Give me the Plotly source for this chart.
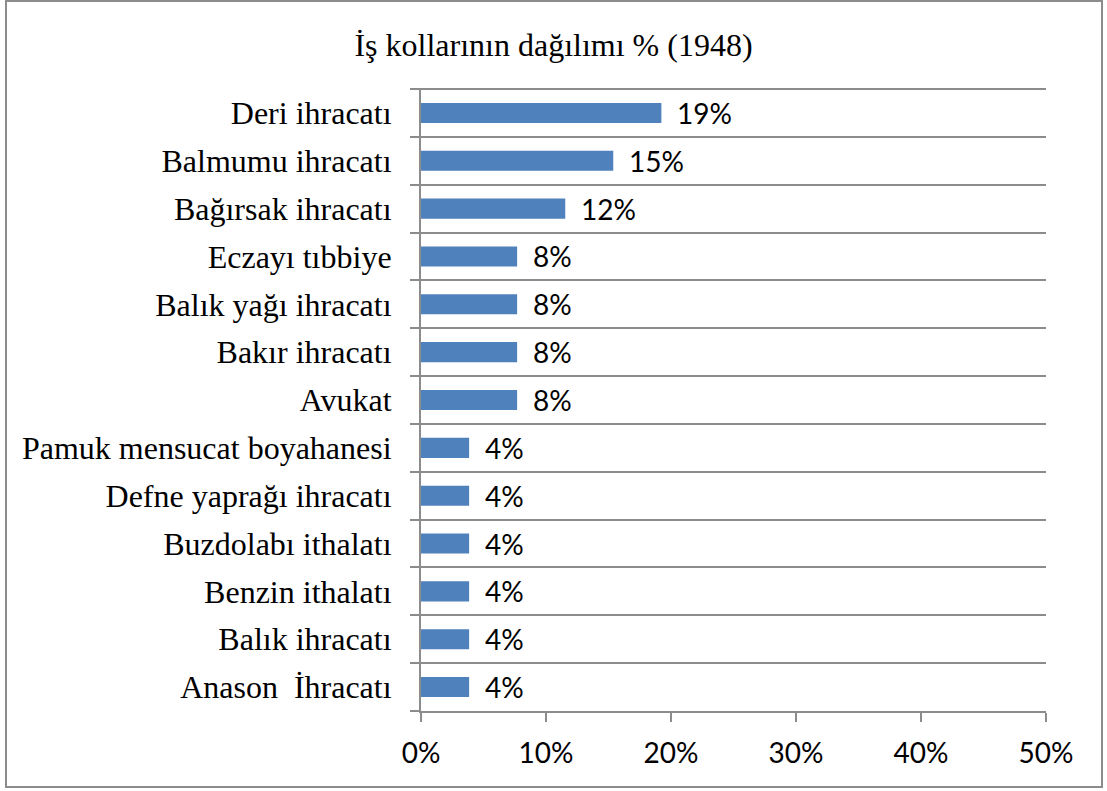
import plotly.graph_objects as go

# Sectors of activity, listed top to bottom
categories = [
    "Deri ihracatı",
    "Balmumu ihracatı",
    "Bağırsak ihracatı",
    "Eczayı tıbbiye",
    "Balık yağı ihracatı",
    "Bakır ihracatı",
    "Avukat",
    "Pamuk mensucat boyahanesi",
    "Defne yaprağı ihracatı",
    "Buzdolabı ithalatı",
    "Benzin ithalatı",
    "Balık ihracatı",
    "Anason  İhracatı",
]
# Share of each sector (%)
shares = [19.23, 15.38, 11.54, 7.69, 7.69, 7.69, 7.69,
          3.85, 3.85, 3.85, 3.85, 3.85, 3.85]
x_ticks = [0, 10, 20, 30, 40, 50]
x_tick_labels = ["0%", "10%", "20%", "30%", "40%", "50%"]

W, H = 1107, 791
L, R, T, B = 421, 61, 89, 80
pw, ph = W - L - R, H - T - B

serif = "Liberation Serif, Times New Roman, serif"
sans = "Lato, Carlito, Calibri, sans-serif"
axis_grey = "#8c8c8c"

fig = go.Figure(
    go.Bar(
        x=shares,
        y=categories,
        orientation="h",
        marker=dict(color="#4f81bd", line=dict(width=0)),
        width=0.42,
        hoverinfo="skip",
    )
)

# value labels to the right of each bar
for c, v in zip(categories, shares):
    fig.add_annotation(
        x=v, y=c, text=f"{v:.0f}%", showarrow=False,
        xanchor="left", yanchor="middle", xshift=14,
        font=dict(family=sans, size=28, color="#000000"),
    )

# gridline along the top edge of the plot area, with its outer tick
fig.add_shape(
    type="line", xref="paper", yref="paper",
    x0=-9 / pw, x1=1, y0=1, y1=1,
    line=dict(color=axis_grey, width=2),
)

# outer frame of the chart
fig.add_shape(
    type="rect", xref="paper", yref="paper",
    x0=(6 - L) / pw, x1=(1102 - L) / pw,
    y0=(H - B - 787) / ph, y1=(H - B - 1) / ph,
    line=dict(color=axis_grey, width=2), layer="below",
)

fig.update_layout(
    width=W, height=H,
    margin=dict(l=L, r=R, t=T, b=B, pad=0),
    paper_bgcolor="white", plot_bgcolor="white",
    showlegend=False,
    title=dict(
        text="İş kollarının dağılımı % (1948)",
        x=0.5, xanchor="center", y=1 - 45 / H, yanchor="middle",
        font=dict(family=serif, size=32, color="#000000"),
    ),
    xaxis=dict(
        range=[0, 50], tickvals=x_ticks, ticktext=x_tick_labels,
        showgrid=False, zeroline=False,
        showline=True, linecolor=axis_grey, linewidth=2,
        ticks="outside", ticklen=9, tickwidth=2, tickcolor=axis_grey,
        tickfont=dict(family=sans, size=28, color="#000000"),
        ticklabelstandoff=7,
        fixedrange=True,
    ),
    yaxis=dict(
        categoryorder="array", categoryarray=categories[::-1],
        range=[-0.5, len(categories) - 0.5],
        tickson="boundaries",
        showgrid=True, gridcolor=axis_grey, gridwidth=2,
        showline=True, linecolor=axis_grey, linewidth=2,
        ticks="outside", ticklen=9, tickwidth=2, tickcolor=axis_grey,
        tickfont=dict(family=serif, size=32, color="#000000"),
        ticklabelstandoff=21,
        fixedrange=True,
    ),
)

fig.write_html("out.html")
